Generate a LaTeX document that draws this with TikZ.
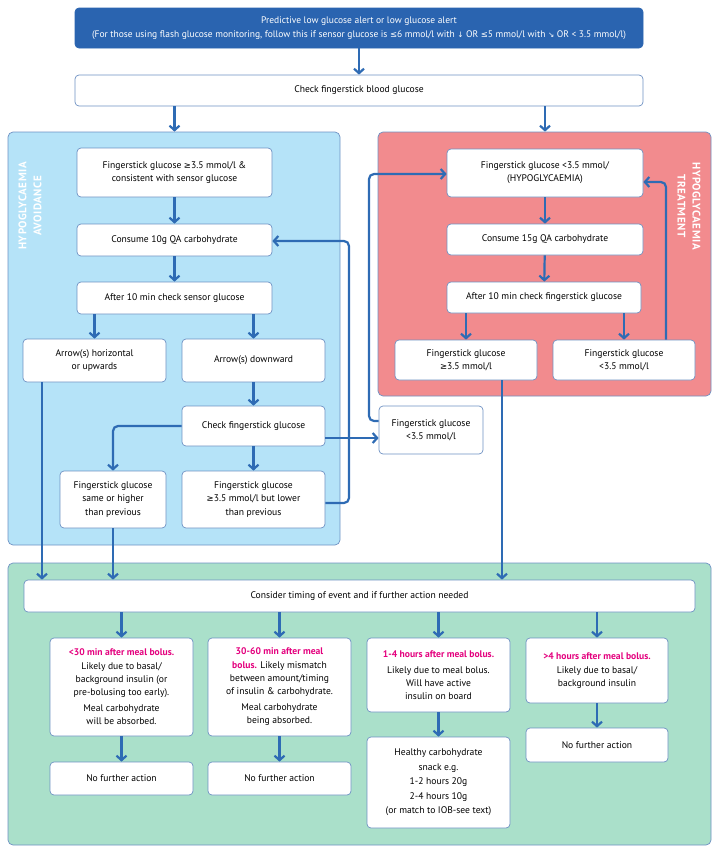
\documentclass[tikz,border=0pt]{standalone}
\usepackage{fontspec}
\setmainfont{PT Sans}
\newfontfamily\symf{DejaVu Sans}
\usetikzlibrary{arrows.meta}
\definecolor{bluebg}{RGB}{181,227,248}
\definecolor{redbg}{RGB}{242,139,142}
\definecolor{greenbg}{RGB}{170,224,202}
\definecolor{darkblue}{RGB}{42,100,176}
\definecolor{arrblue}{RGB}{46,107,180}
\definecolor{bordercol}{RGB}{110,145,195}
\definecolor{mag}{RGB}{228,0,126}
\newcommand{\sGE}{{\symf\fontsize{8.5}{10}\selectfont ≥}}
\newcommand{\sLE}{{\symf\fontsize{8.5}{10}\selectfont ≤}}
\newcommand{\sDN}{{\symf\fontsize{7.5}{10}\selectfont ↓}}
\newcommand{\sSE}{{\symf\fontsize{7.5}{10}\selectfont ↘}}
\newcommand{\mg}[1]{{\color{mag}\bfseries #1}}
\begin{document}
\begin{tikzpicture}[x=1pt,y=-1pt,
  box/.style={draw=bordercol, line width=0.7pt, fill=white, rounded corners=4pt,
    align=center, inner sep=2pt, font=\fontsize{9.6}{13.2}\selectfont},
  panel/.style={draw=bordercol, line width=0.7pt, rounded corners=5pt, inner sep=0pt},
  arr/.style={draw=arrblue, line width=2.2pt, rounded corners=5pt,
    -{Straight Barb[length=4.5pt,width=10pt,line width=2.2pt]}},
  ttl/.style={white, align=center, font=\bfseries\fontsize{11}{15}\selectfont\addfontfeature{LetterSpace=5}}
]
\useasboundingbox (0,0) rectangle (719,852);
% panels
\node[panel, fill=bluebg, minimum width=332pt, minimum height=413pt] (bluep) at (174,338.5) {};
\node[panel, fill=redbg, minimum width=333pt, minimum height=264pt] (redp) at (544.5,264) {};
\node[panel, fill=greenbg, minimum width=703pt, minimum height=282pt] (greenp) at (359.5,704) {};
\node[ttl, rotate=90] (tA) at (30,206) {HYPOGLYCAEMIA\\AVOIDANCE};
\node[ttl, rotate=-90] (tT) at (689,206) {HYPOGLYCAEMIA\\TREATMENT};
% top
\node[box, draw=darkblue, fill=darkblue, text=white, minimum width=568pt, minimum height=40pt, font=\fontsize{9.5}{14}\selectfont] (top) at (359,28)
  {Predictive low glucose alert or low glucose alert\\
   (For those using flash glucose monitoring, follow this if sensor glucose is \sLE6 mmol/l with \sDN{} OR \sLE5 mmol/l with \sSE{} OR < 3.5 mmol/l)};
\node[box, minimum width=568pt, minimum height=31pt] (check) at (359,90.5) {Check fingerstick blood glucose};
% blue panel boxes
\node[box, minimum width=195pt, minimum height=49pt] (F1) at (174.5,172.5) {Fingerstick glucose \sGE3.5 mmol/l \&\\consistent with sensor glucose};
\node[box, minimum width=195pt, minimum height=32pt] (C10) at (174.5,240) {Consume 10g QA carbohydrate};
\node[box, minimum width=195pt, minimum height=32pt] (A10) at (174.5,298) {After 10 min check sensor glucose};
\node[box, minimum width=143pt, minimum height=43pt] (AH) at (94.5,360.5) {Arrow(s) horizontal\\or upwards};
\node[box, minimum width=143pt, minimum height=43pt] (AD) at (253.5,360.5) {Arrow(s) downward};
\node[box, minimum width=143pt, minimum height=40pt] (CF) at (253.5,426) {Check fingerstick glucose};
\node[box, minimum width=106pt, minimum height=57pt] (SH) at (113,499.5) {Fingerstick glucose\\same or higher\\than previous};
\node[box, minimum width=143pt, minimum height=57pt] (LO) at (253.5,499.5) {Fingerstick glucose\\\sGE3.5 mmol/l but lower\\than previous};
\node[box, minimum width=104pt, minimum height=48pt] (OUT) at (431,430) {Fingerstick glucose\\<3.5 mmol/l};
% red panel boxes
\node[box, minimum width=196pt, minimum height=48pt] (R1) at (545,173) {Fingerstick glucose <3.5 mmol/\\(HYPOGLYCAEMIA)};
\node[box, minimum width=196pt, minimum height=31pt] (R2) at (545,239.5) {Consume 15g QA carbohydrate};
\node[box, minimum width=194pt, minimum height=31pt] (R3) at (544,297.5) {After 10 min check fingerstick glucose};
\node[box, minimum width=142pt, minimum height=40pt] (RGE) at (466,360) {Fingerstick glucose\\\sGE3.5 mmol/l};
\node[box, minimum width=142pt, minimum height=40pt] (RLT) at (624,360) {Fingerstick glucose\\<3.5 mmol/l};
% green panel boxes
\node[box, minimum width=671pt, minimum height=32pt] (CON) at (359.5,596) {Consider timing of event and if further action needed};
\node[box, minimum width=143pt, minimum height=98pt] (B1) at (121.5,687)
  {\mg{<30 min after meal bolus.}\\Likely due to basal/\\background insulin (or\\pre-bolusing too early).\\[3pt]Meal carbohydrate\\will be absorbed.};
\node[box, minimum width=143pt, minimum height=98pt] (B2) at (279.5,687)
  {\mg{30-60 min after meal}\\\mg{bolus.} Likely mismatch\\between amount/timing\\of insulin \& carbohydrate.\\[3pt]Meal carbohydrate\\being absorbed.};
\node[box, minimum width=143pt, minimum height=74pt] (B3) at (438.5,675)
  {\mg{1-4 hours after meal bolus.}\\[3pt]Likely due to meal bolus.\\Will have active\\insulin on board};
\node[box, minimum width=142pt, minimum height=65pt] (B4) at (597,670.5)
  {\mg{>4 hours after meal bolus.}\\[1pt]Likely due to basal/\\background insulin};
\node[box, minimum width=143pt, minimum height=33pt] (N1) at (121.5,778.5) {No further action};
\node[box, minimum width=143pt, minimum height=33pt] (N2) at (279.5,778.5) {No further action};
\node[box, minimum width=143pt, minimum height=91pt, font=\fontsize{9.6}{14.5}\selectfont] (SN) at (438.5,782.5)
  {Healthy carbohydrate\\snack e.g.\\1-2 hours 20g\\2-4 hours 10g\\(or match to IOB-see text)};
\node[box, minimum width=142pt, minimum height=34pt] (N4) at (597,745) {No further action};
% helper coordinates
\coordinate (xAH) at (42,0);
\coordinate (xRGE) at (502,0);
\coordinate (yLO) at (0,503);
\coordinate (xL1) at (349,0);
\coordinate (yC10) at (0,241);
\coordinate (yOUT) at (0,421);
\coordinate (xL2) at (369,0);
\coordinate (yR1) at (0,174);
\coordinate (yCF) at (0,438);
\coordinate (xL3) at (666,0);
\coordinate (yR1b) at (0,182);
% arrows
\draw[arr] (top) -- (check);
\draw[arr] (check.south -| F1) -- (bluep.north -| F1);
\draw[arr] (check.south -| R1) -- (redp.north -| R1);
\draw[arr] (F1) -- (C10);
\draw[arr] (C10) -- (A10);
\draw[arr] (A10.south -| AH) -- (AH);
\draw[arr] (A10.south -| AD) -- (AD);
\draw[arr] (AD) -- (CF);
\draw[arr] (CF.west) -| (SH);
\draw[arr] (CF) -- (LO);
\draw[arr] (CF.east |- yCF) -- (OUT.west |- yCF);
\draw[arr] (LO.east |- yLO) -- (xL1 |- yLO) -- (xL1 |- yC10) -- (C10.east |- yC10);
\draw[arr] (OUT.west |- yOUT) -- (xL2 |- yOUT) -- (xL2 |- yR1) -- (R1.west |- yR1);
\draw[arr] (AH.south -| xAH) -- (CON.north -| xAH);
\draw[arr] (SH) -- (SH |- CON.north);
\draw[arr] (RGE.south -| xRGE) -- (CON.north -| xRGE);
\draw[arr] (R1) -- (R2);
\draw[arr] (R2) -- (R3);
\draw[arr] (R3.south -| RGE) -- (RGE);
\draw[arr] (R3.south -| RLT) -- (RLT);
\draw[arr] (RLT.north -| xL3) -- (xL3 |- yR1b) -- (R1.east |- yR1b);
\draw[arr] (CON.south -| B1) -- (B1);
\draw[arr] (CON.south -| B2) -- (B2);
\draw[arr] (CON.south -| B3) -- (B3);
\draw[arr] (CON.south -| B4) -- (B4);
\draw[arr] (B1) -- (N1);
\draw[arr] (B2) -- (N2);
\draw[arr] (B3) -- (SN);
\draw[arr] (B4) -- (N4);
\end{tikzpicture}
\end{document}
